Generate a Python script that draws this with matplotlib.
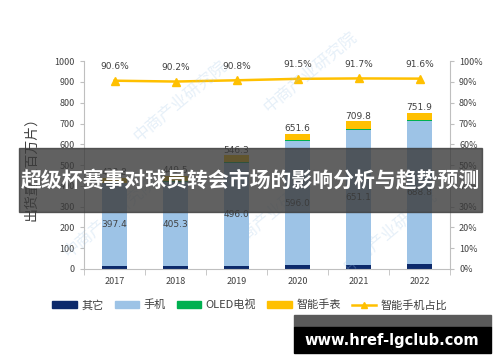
import matplotlib
matplotlib.use("Agg")
import matplotlib.pyplot as plt
from matplotlib.patches import Rectangle
from matplotlib.lines import Line2D
import numpy as np

plt.rcParams['font.family'] = ['Noto Sans CJK SC', 'DejaVu Sans']

years = ['2017', '2018', '2019', '2020', '2021', '2022']
other = [14, 13, 15, 19, 19, 22]
phone = [397.4, 405.3, 496.0, 596.0, 651.1, 688.8]
oled = [4, 4, 5, 5, 5, 6]
totals = [438.8, 449.5, 546.3, 651.6, 709.8, 751.9]
watch = [t - o - p - d for t, o, p, d in zip(totals, other, phone, oled)]
share = [90.6, 90.2, 90.8, 91.5, 91.7, 91.6]
share_labels = ['90.6%', '90.2%', '90.8%', '91.5%', '91.7%', '91.6%']

c_other = '#0d2a6b'
c_phone = '#9dc3e6'
c_oled = '#00b050'
c_watch = '#ffc000'
c_line = '#ffc000'
txt = '#404040'

fig = plt.figure(figsize=(5, 3.62), dpi=100)
ax = fig.add_axes([0.168, 0.257, 0.732, 0.574])
x = np.arange(len(years))
w = 0.4
b1 = np.array(other)
b2 = b1 + np.array(phone)
b3 = b2 + np.array(oled)
ax.bar(x, other, w, color=c_other, zorder=2)
ax.bar(x, phone, w, bottom=b1, color=c_phone, zorder=2)
ax.bar(x, oled, w, bottom=b2, color=c_oled, zorder=2)
ax.bar(x, watch, w, bottom=b3, color=c_watch, zorder=2)
for i in range(len(years)):
    ax.text(x[i], other[i] + phone[i] / 2, f'{phone[i]:.1f}', ha='center', va='center',
            fontsize=6.5, color=txt, family='DejaVu Sans')
    ax.text(x[i], totals[i] + 4, f'{totals[i]:.1f}', ha='center', va='bottom',
            fontsize=6.5, color=txt, family='DejaVu Sans')
ax.set_xlim(-0.5, 5.5)
ax.set_ylim(0, 1000)
ax.set_yticks(range(0, 1001, 100))
ax.set_xticks(x)
ax.set_xticklabels(years)
ax.set_xticks(np.arange(-0.5, 6, 1), minor=True)
ax.tick_params(axis='x', which='major', length=0, labelsize=6.5, colors=txt, pad=6)
ax.tick_params(axis='x', which='minor', length=4, color='#bfbfbf')
ax.tick_params(axis='y', labelsize=6.5, colors=txt, length=3, color='#bfbfbf')
for s in ['top', 'right']:
    ax.spines[s].set_visible(False)
for s in ['left', 'bottom']:
    ax.spines[s].set_color('#bfbfbf')
    ax.spines[s].set_linewidth(0.8)
ax.set_ylabel('出货量（百万片）', fontsize=10, color=txt, labelpad=12)

ax2 = ax.twinx()
ax2.set_ylim(0, 100)
ax2.set_yticks(range(0, 101, 10))
ax2.set_yticklabels([f'{v}%' for v in range(0, 101, 10)])
ax2.tick_params(axis='y', labelsize=6.5, colors=txt, length=3, color='#bfbfbf')
for s in ['top', 'left', 'bottom']:
    ax2.spines[s].set_visible(False)
ax2.spines['right'].set_color('#bfbfbf')
ax2.spines['right'].set_linewidth(0.8)
ax2.plot(x, share, color=c_line, lw=1.8, marker='^', markersize=6, zorder=3)
for i in range(len(years)):
    ax2.annotate(share_labels[i], (x[i], share[i]), xytext=(0, 7), textcoords='offset points',
                 ha='center', va='bottom', fontsize=6.5, color=txt, family='DejaVu Sans')

# faint watermarks
for (wx, wy) in [(0.36, 0.72), (0.62, 0.80), (0.55, 0.42), (0.22, 0.40), (0.78, 0.36)]:
    fig.text(wx, wy, '中商产业研究院', fontsize=12, color='#9dc3e6', alpha=0.25,
             rotation=40, ha='center', va='center')

# legend
handles = [Rectangle((0, 0), 1, 1, color=c_other), Rectangle((0, 0), 1, 1, color=c_phone),
           Rectangle((0, 0), 1, 1, color=c_oled), Rectangle((0, 0), 1, 1, color=c_watch),
           Line2D([0], [0], color=c_line, lw=1.8, marker='^', markersize=5)]
labels = ['其它', '手机', 'OLED电视', '智能手表', '智能手机占比']
fig.legend(handles, labels, loc='center', bbox_to_anchor=(0.5, 1 - 305 / 362), ncol=5,
           frameon=False, fontsize=8, handlelength=2.2, handleheight=0.6,
           columnspacing=1.0, handletextpad=0.4, labelcolor=txt)

# overlay banner
fig.patches.append(Rectangle((19 / 500, 1 - 212 / 362), 463 / 500, 64 / 362,
                             transform=fig.transFigure, color='#3a3a3a', alpha=0.8, zorder=10))
fig.text(0.5, 1 - 181 / 362, '超级杯赛事对球员转会市场的影响分析与趋势预测', ha='center', va='center',
         fontsize=15, color='white', fontweight='bold', zorder=11)

# site box
fig.patches.append(Rectangle((294 / 500, 1 - 327 / 362), 197 / 500, 12 / 362,
                             transform=fig.transFigure, color='#5a5a5a', zorder=10))
fig.patches.append(Rectangle((294 / 500, 1 - 353 / 362), 197 / 500, 26 / 362,
                             transform=fig.transFigure, color='black', zorder=10))
fig.text(392 / 500, 1 - 340 / 362, 'www.href-lgclub.com', ha='center', va='center',
         fontsize=10.5, color='white', fontweight='bold', family='DejaVu Sans', zorder=11)

fig.savefig('out.png', dpi=100)
